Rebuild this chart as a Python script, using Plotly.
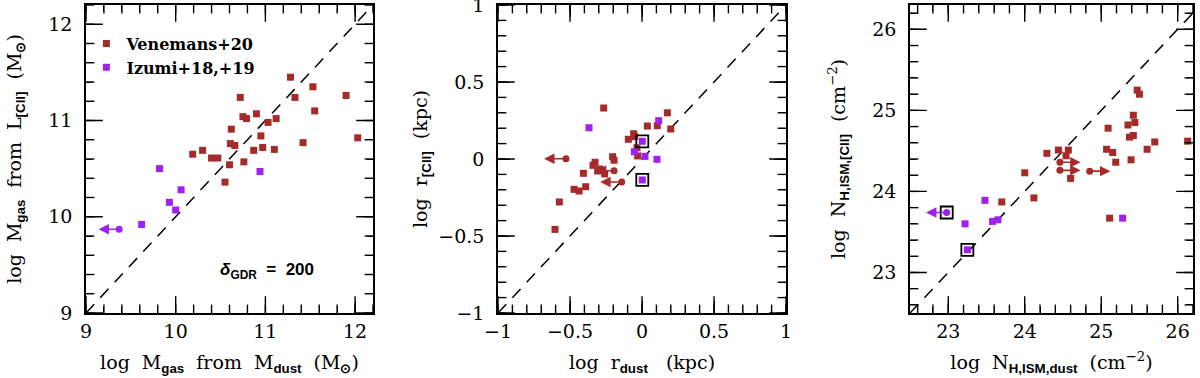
import plotly.graph_objects as go

RED = "#a52a2a"
PURPLE = "#a020f0"
SERIF = "DejaVu Serif"
SANS = "Liberation Sans"

# ---- panel 1: gas mass from dust vs gas mass from [CII]
p1_ven_x = [11.28, 11.53, 11.33, 10.72, 11.90, 11.55, 10.75, 10.79, 10.90, 11.12,
            11.03, 10.62, 10.95, 12.03, 10.61, 10.66, 11.42, 10.97, 10.87, 11.10,
            10.19, 10.30, 10.40, 10.47, 10.76, 10.60, 10.55]
p1_ven_y = [11.45, 11.35, 11.24, 11.24, 11.26, 11.10, 11.04, 11.02, 11.07, 11.02,
            10.98, 10.91, 10.84, 10.82, 10.76, 10.74, 10.77, 10.72, 10.69, 10.70,
            10.65, 10.69, 10.61, 10.61, 10.57, 10.54, 10.36]
p1_izu_x = [9.82, 10.06, 9.93, 10.00, 9.62, 10.94]
p1_izu_y = [10.50, 10.28, 10.15, 10.07, 9.92, 10.47]
p1_izu_lim_x = [9.37]
p1_izu_lim_y = [9.87]
p1_izu_lim_tip = [9.14]

# ---- panel 2: dust size vs [CII] size
p2_ven_x = [-0.266, 0.176, 0.20, 0.037, 0.106, -0.058, -0.095, -0.051, -0.035, -0.03,
            -0.204, -0.194, -0.326, -0.34, -0.292, -0.308, -0.259, -0.407, -0.391,
            -0.472, -0.437, -0.574, -0.604]
p2_ven_y = [0.331, 0.30, 0.195, 0.214, 0.216, 0.164, 0.128, 0.145, 0.073, 0.02,
            0.015, -0.008, -0.021, -0.041, -0.065, -0.078, -0.097, -0.093, -0.18,
            -0.197, -0.208, -0.279, -0.457]
p2_ven_lim_x = [-0.528, -0.194, -0.141]
p2_ven_lim_y = [0.002, -0.076, -0.149]
p2_ven_lim_tip = [-0.68, -0.32, -0.29]
p2_izu_x = [-0.368, 0.116, 0.002, -0.053, 0.021, 0.104, 0.002]
p2_izu_y = [0.203, 0.249, 0.115, 0.047, 0.017, -0.002, -0.136]
p2_box_x = [0.002, 0.002]
p2_box_y = [0.115, -0.136]

# ---- panel 3: ISM column density from dust vs from [CII]
p3_ven_x = [25.47, 25.50, 25.42, 25.44, 25.35, 25.09, 25.42, 25.37, 25.70, 26.13,
            25.60, 25.07, 25.15, 25.39, 25.19, 24.29, 24.44, 24.57, 24.54, 24.60,
            24.00, 24.12, 23.70, 25.11]
p3_ven_y = [25.25, 25.20, 24.94, 24.85, 24.82, 24.78, 24.69, 24.67, 24.61, 24.62,
            24.52, 24.52, 24.48, 24.39, 24.36, 24.47, 24.51, 24.51, 24.44, 24.16,
            24.23, 23.92, 23.87, 23.67]
p3_ven_lim_x = [24.46, 24.46, 24.85]
p3_ven_lim_y = [24.36, 24.26, 24.25]
p3_ven_lim_tip = [24.73, 24.73, 25.12]
p3_izu_x = [23.48, 23.58, 23.65, 23.22, 25.28, 23.25]
p3_izu_y = [23.89, 23.63, 23.65, 23.60, 23.67, 23.28]
p3_izu_lim_x = [22.98]
p3_izu_lim_y = [23.74]
p3_izu_lim_tip = [22.71]
p3_box_x = [22.98, 23.25]
p3_box_y = [23.74, 23.28]

# axis ranges (also used for the 1:1 line)
p1_range = [9.0, 12.2]
p2_range = [-1.0, 1.0]
p3_xrange = [22.5, 26.2]
p3_yrange = [22.5, 26.3]

# tick positions
p1_major = [9, 10, 11, 12]
p2_major = [-1, -0.5, 0, 0.5, 1]
p3_major = [23, 24, 25, 26]
p1_minor = [round(9 + 0.2 * i, 1) for i in range(17)]
p2_minor = [round(-1 + 0.1 * i, 1) for i in range(21)]
p3_xminor = [round(22.6 + 0.2 * i, 1) for i in range(19)]
p3_yminor = [round(22.6 + 0.2 * i, 1) for i in range(19)]

fig = go.Figure()


def squares(x, y, color, xa, ya, name=None, legend=False):
    fig.add_trace(go.Scatter(
        x=x, y=y, mode="markers", xaxis=xa, yaxis=ya,
        marker=dict(symbol="square", size=7, color=color),
        name=name, showlegend=legend,
    ))


def limits(x, y, tip, color, xa, ya):
    fig.add_trace(go.Scatter(
        x=x, y=y, mode="markers", xaxis=xa, yaxis=ya,
        marker=dict(symbol="circle", size=7, color=color),
        showlegend=False,
    ))
    for x0, y0, x1 in zip(x, y, tip):
        fig.add_annotation(
            x=x1, y=y0, ax=x0, ay=y0,
            xref=xa, yref=ya, axref=xa, ayref=ya,
            showarrow=True, arrowhead=2, arrowsize=1.3, arrowwidth=1.6,
            arrowcolor=color, standoff=0, text="",
        )


def boxes(x, y, xa, ya):
    fig.add_trace(go.Scatter(
        x=x, y=y, mode="markers", xaxis=xa, yaxis=ya,
        marker=dict(symbol="square-open", size=12, color="black", line=dict(width=1.8)),
        showlegend=False,
    ))


def one_to_one(rng, xa, ya):
    fig.add_trace(go.Scatter(
        x=rng, y=rng, mode="lines", xaxis=xa, yaxis=ya,
        line=dict(color="black", width=1.5, dash="12px,9px"),
        showlegend=False, hoverinfo="skip",
    ))


def tick_marks(xt, yt, xr, yr, size, xa, ya):
    # inside ticks on all four sides: line markers centred on the frame, clipped to the plot area
    xs = xt + xt
    ys = [yr[0]] * len(xt) + [yr[1]] * len(xt)
    fig.add_trace(go.Scatter(
        x=xs, y=ys, mode="markers", xaxis=xa, yaxis=ya, cliponaxis=True,
        marker=dict(symbol="line-ns", size=size, line=dict(width=1.4, color="black")),
        showlegend=False, hoverinfo="skip",
    ))
    xs = [xr[0]] * len(yt) + [xr[1]] * len(yt)
    ys = yt + yt
    fig.add_trace(go.Scatter(
        x=xs, y=ys, mode="markers", xaxis=xa, yaxis=ya, cliponaxis=True,
        marker=dict(symbol="line-ew", size=size, line=dict(width=1.4, color="black")),
        showlegend=False, hoverinfo="skip",
    ))


one_to_one(p1_range, "x", "y")
squares(p1_ven_x, p1_ven_y, RED, "x", "y", "Venemans+20", True)
squares(p1_izu_x, p1_izu_y, PURPLE, "x", "y", "Izumi+18,+19", True)
limits(p1_izu_lim_x, p1_izu_lim_y, p1_izu_lim_tip, PURPLE, "x", "y")
tick_marks(p1_major, p1_major, p1_range, p1_range, 24, "x", "y")
tick_marks(p1_minor, p1_minor, p1_range, p1_range, 12, "x", "y")

one_to_one(p2_range, "x2", "y2")
squares(p2_ven_x, p2_ven_y, RED, "x2", "y2")
limits(p2_ven_lim_x, p2_ven_lim_y, p2_ven_lim_tip, RED, "x2", "y2")
squares(p2_izu_x, p2_izu_y, PURPLE, "x2", "y2")
boxes(p2_box_x, p2_box_y, "x2", "y2")
tick_marks(p2_major, p2_major, p2_range, p2_range, 24, "x2", "y2")
tick_marks(p2_minor, p2_minor, p2_range, p2_range, 12, "x2", "y2")

one_to_one([p3_xrange[0], p3_yrange[1]], "x3", "y3")
squares(p3_ven_x, p3_ven_y, RED, "x3", "y3")
limits(p3_ven_lim_x, p3_ven_lim_y, p3_ven_lim_tip, RED, "x3", "y3")
squares(p3_izu_x, p3_izu_y, PURPLE, "x3", "y3")
limits(p3_izu_lim_x, p3_izu_lim_y, p3_izu_lim_tip, PURPLE, "x3", "y3")
boxes(p3_box_x, p3_box_y, "x3", "y3")
tick_marks(p3_major, p3_major, p3_xrange, p3_yrange, 24, "x3", "y3")
tick_marks(p3_xminor, p3_yminor, p3_xrange, p3_yrange, 12, "x3", "y3")


def sub(s):
    return f"<sub><span style='font-family:{SANS};font-weight:bold'>{s}</span></sub>"


def axis(rng, dtick, minor, title, is_x, standoff=None):
    ax = dict(
        range=rng, dtick=dtick, showline=True, linecolor="black", linewidth=1.6,
        mirror="allticks", ticks="inside", ticklen=12, tickwidth=1.4, tickcolor="black",
        minor=dict(dtick=minor, ticks="inside", ticklen=6, tickwidth=1.2, tickcolor="black"),
        tickfont=dict(family=SERIF, size=19, color="black"),
        title=dict(text=title, font=dict(family=SERIF, size=19, color="black")),
        showgrid=False, zeroline=False, automargin=False,
    )
    if not is_x:
        ax["ticklabelstandoff"] = 8
        ax["ticklabeloverflow"] = "allow"
    if standoff is not None:
        ax["title"]["standoff"] = standoff
    return ax


fig.update_layout(
    width=1200, height=378,
    paper_bgcolor="white", plot_bgcolor="white",
    margin=dict(l=0, r=0, t=5, b=65),
    xaxis=dict(domain=[86 / 1200, 373 / 1200], anchor="y",
               **axis(p1_range, 1, 0.2,
                      "log  M" + sub("gas") + "  from  M" + sub("dust") + "  (M" + sub("⊙") + ")", True)),
    yaxis=dict(anchor="x",
               **axis(p1_range, 1, 0.2,
                      "log  M" + sub("gas") + "  from  L" + sub("[CII]") + "  (M" + sub("⊙") + ")",
                      False, 22)),
    xaxis2=dict(domain=[498 / 1200, 786 / 1200], anchor="y2",
                **axis(p2_range, 0.5, 0.1, "log  r" + sub("dust") + "   (kpc)", True)),
    yaxis2=dict(anchor="x2",
                **axis(p2_range, 0.5, 0.1, "log  r" + sub("[CII]") + "  (kpc)", False, 6)),
    xaxis3=dict(domain=[910 / 1200, 1193 / 1200], anchor="y3",
                **axis(p3_xrange, 1, 0.2, "log  N" + sub("H,ISM,dust") + "  (cm<sup>−2</sup>)", True)),
    yaxis3=dict(anchor="x3",
                **axis(p3_yrange, 1, 0.2, "log  N" + sub("H,ISM,[CII]") + "  (cm<sup>−2</sup>)",
                       False, 22)),
    legend=dict(x=0.072, y=0.93, font=dict(family=SERIF, size=16, color="black", weight="bold"),
                bgcolor="rgba(0,0,0,0)"),
)

fig.add_annotation(
    xref="paper", yref="paper", x=0.2225, y=0.095, xanchor="center", showarrow=False,
    text="<i>δ</i><sub>GDR</sub>  =  200",
    font=dict(family=SANS, size=17, color="black", weight="bold"),
)

fig.write_html("out.html", post_script="document.body.style.margin = '0';",
               config={"displayModeBar": False})
